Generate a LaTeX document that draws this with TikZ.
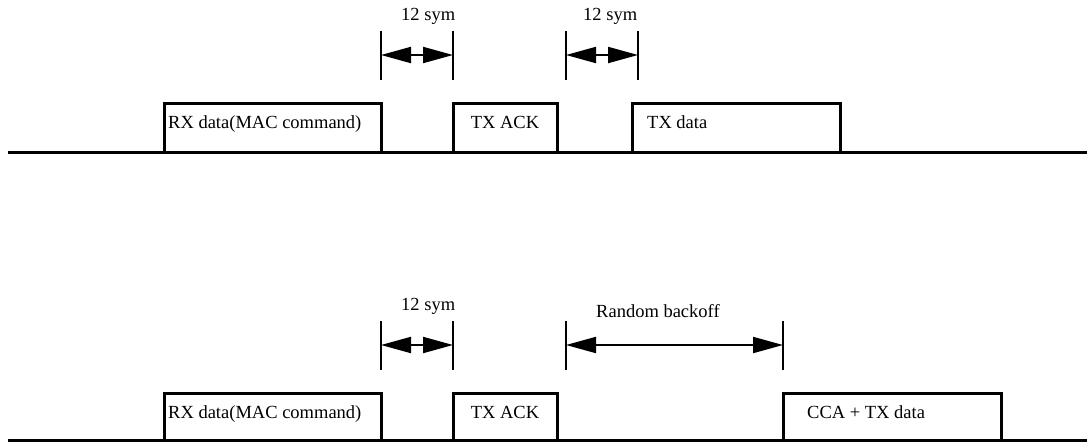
\documentclass[tikz,border=0pt]{standalone}
\usepackage{fontspec}
\setmainfont{Liberation Serif}
\usetikzlibrary{arrows.meta}

\tikzset{
  slot/.style={line width=3pt, line join=miter},
  axisline/.style={line width=3pt},
  tickline/.style={line width=2pt},
  gaparrow/.style={line width=2pt,
    {Triangle[length=30pt,width=16pt]}-{Triangle[length=30pt,width=16pt]}},
  txt/.style={inner sep=0pt, font=\fontsize{18.5}{22}\selectfont}
}

\begin{document}
\begin{tikzpicture}[x=1pt,y=-1pt]
  \useasboundingbox (0,0) rectangle (1089,442);

  % upper case: TX data after 12 sym
  \draw[axisline] (8,152) -- (1087,152);
  \draw[slot] (164,152) -- (164,103) -- (381,103) -- (381,152);
  \draw[slot] (453,152) -- (453,103) -- (557,103) -- (557,152);
  \draw[slot] (632,152) -- (632,103) -- (840,103) -- (840,152);
  \node[txt, anchor=base west] (rxa) at (168,128) {RX data(MAC command)};
  \node[txt, anchor=base] (acka) at (505,128) {TX ACK};
  \node[txt, anchor=base west] (txa) at (647,128) {TX data};

  \foreach \x/\n in {381/a1,453/a2,566/a3,638/a4} {
    \draw[tickline] (\x,31) -- (\x,80);
    \coordinate (\n) at (\x,55);
  }
  \draw[gaparrow] (a1) -- (a2);
  \draw[gaparrow] (a3) -- (a4);
  \node[txt, anchor=base west] (syma) at (401,20) {12 sym};
  \node[txt, anchor=base west] (symb) at (583,20) {12 sym};

  % lower case: random backoff, then CCA
  \draw[axisline] (8,440) -- (1087,440);
  \draw[slot] (164,440) -- (164,393) -- (381,393) -- (381,440);
  \draw[slot] (453,440) -- (453,393) -- (557,393) -- (557,440);
  \draw[slot] (783,440) -- (783,393) -- (1001,393) -- (1001,440);
  \node[txt, anchor=base west] (rxb) at (168,418) {RX data(MAC command)};
  \node[txt, anchor=base] (ackb) at (505,418) {TX ACK};
  \node[txt, anchor=base west] (cca) at (807,418) {CCA + TX data};

  \foreach \x/\n in {381/b1,453/b2,566/b3,783/b4} {
    \draw[tickline] (\x,321) -- (\x,370);
    \coordinate (\n) at (\x,345);
  }
  \draw[gaparrow] (b1) -- (b2);
  \draw[gaparrow] (b3) -- (b4);
  \node[txt, anchor=base west] (symc) at (401,310) {12 sym};
  \node[txt, anchor=base west] (backoff) at (596,317) {Random backoff};
\end{tikzpicture}
\end{document}
